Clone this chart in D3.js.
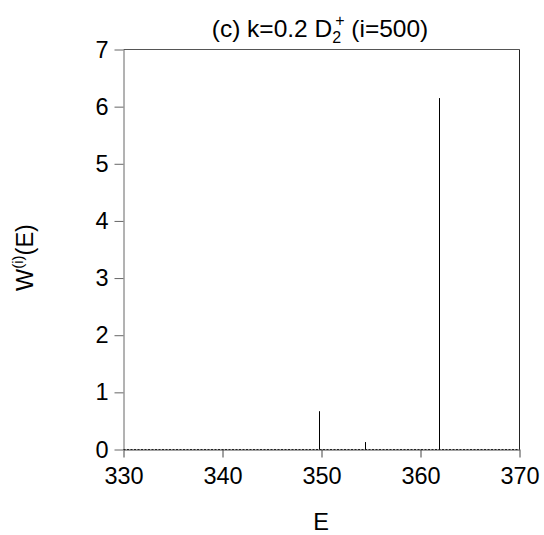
<!DOCTYPE html>
<html><head><meta charset="utf-8">
<script src="https://cdn.jsdelivr.net/npm/d3@7"></script>
<style>body{margin:0;background:#fff;} text{font-family:"Liberation Sans",Arial,sans-serif;}</style>
</head><body><svg id="c" width="544" height="535"></svg>
<script>
const energies = [349.73, 354.42, 361.87];
const weights = [0.67, 0.13, 6.15];
const xTicks = [330, 340, 350, 360, 370];
const yTicks = [0, 1, 2, 3, 4, 5, 6, 7];

const svg = d3.select("#c");
const m = {l:123.5, r:519.5, t:49.5, b:449.5};
const x = d3.scaleLinear().domain([330,370]).range([m.l, m.r]);
const y = d3.scaleLinear().domain([0,7]).range([m.b, m.t]);
const FF = "Liberation Sans, Arial, sans-serif";

// frame top & right
svg.append("line").attr("x1",m.l).attr("x2",m.r).attr("y1",m.t).attr("y2",m.t).attr("stroke","#555");
svg.append("line").attr("x1",m.r).attr("x2",m.r).attr("y1",m.t).attr("y2",m.b).attr("stroke","#222");

const xa = svg.append("g").attr("transform",`translate(0,${m.b})`)
  .call(d3.axisBottom(x).tickValues(xTicks).tickFormat(d3.format("d")).tickSize(8).tickPadding(10).tickSizeOuter(0));
xa.selectAll("text").attr("font-size",23.5).attr("fill","#000").attr("font-family",FF);
xa.select(".domain").attr("stroke","#444");
xa.selectAll(".tick line").attr("stroke","#444");

const ya = svg.append("g").attr("transform",`translate(${m.l},0)`)
  .call(d3.axisLeft(y).tickValues(yTicks).tickFormat(d3.format("d")).tickSize(9).tickPadding(6).tickSizeOuter(0));
ya.selectAll("text").attr("font-size",23.5).attr("fill","#000").attr("font-family",FF);
ya.select(".domain").attr("stroke","#666");
ya.selectAll(".tick line").attr("stroke","#666");

// dotted baseline overlay
svg.append("line").attr("x1",m.l).attr("x2",m.r).attr("y1",y(0)).attr("y2",y(0))
  .attr("stroke","#222").attr("stroke-dasharray","2,1.5");

// spikes
svg.append("g").selectAll("line").data(energies).join("line")
  .attr("x1",(d)=>Math.round(x(d))+0.5).attr("x2",(d)=>Math.round(x(d))+0.5)
  .attr("y1",y(0)).attr("y2",(d,i)=>y(weights[i]))
  .attr("stroke","#000").attr("stroke-width",1);

// title
const t = svg.append("text").attr("x",320).attr("y",37).attr("text-anchor","middle").attr("font-size",24.5);
t.append("tspan").text("(c) k=0.2 D");
t.append("tspan").attr("font-size",16).attr("dy",6).text("2");
t.append("tspan").attr("font-size",16).attr("dx",-6).attr("dy",-17).text("+");
t.append("tspan").attr("dy",11).text(" (i=500)");

// x label
svg.append("text").attr("x",321).attr("y",530).attr("text-anchor","middle").attr("font-size",23.5).text("E");

// y label
const yl = svg.append("text").attr("transform","translate(32.5,257.5) rotate(-90)").attr("text-anchor","middle").attr("font-size",23.5);
yl.append("tspan").text("W");
yl.append("tspan").attr("font-size",15).attr("dy",-10).text("(i)");
yl.append("tspan").attr("dy",10).text("(E)");
</script></body></html>
